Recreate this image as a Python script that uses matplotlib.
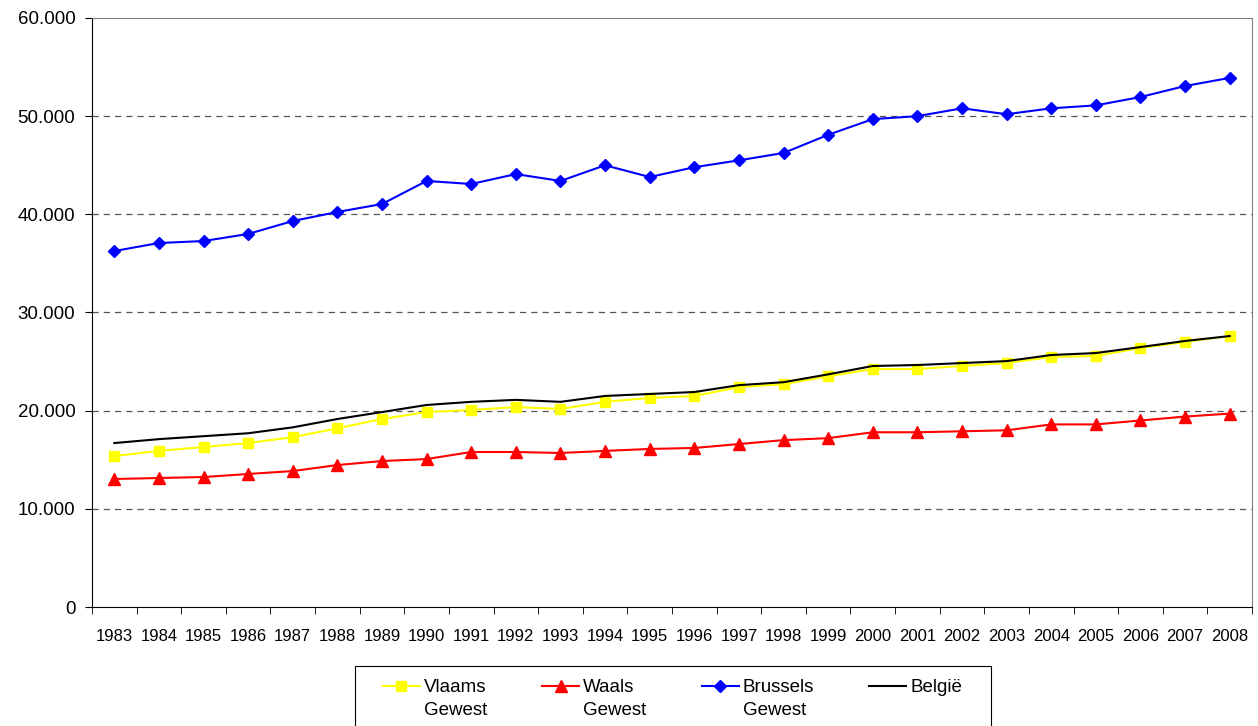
import matplotlib.pyplot as plt
from matplotlib.lines import Line2D
from matplotlib.patches import Rectangle
import numpy as np

plt.rcParams['font.family'] = ['Liberation Sans', 'DejaVu Sans']

years = [str(y) for y in range(1983, 2009)]
vlaams = [15380, 15900, 16300, 16700, 17300, 18200, 19150, 19860, 20070, 20370,
          20170, 20900, 21300, 21500, 22400, 22700, 23500, 24240, 24240, 24550,
          24850, 25470, 25570, 26380, 27000, 27600]
waals = [13040, 13140, 13240, 13550, 13850, 14460, 14870, 15070, 15790, 15790,
         15690, 15900, 16100, 16200, 16600, 17000, 17200, 17800, 17800, 17900,
         18000, 18600, 18600, 19000, 19400, 19700]
brussel = [36260, 37080, 37280, 38000, 39320, 40240, 41050, 43400, 43090, 44100,
           43400, 45000, 43800, 44800, 45500, 46250, 48100, 49700, 50000, 50800,
           50200, 50800, 51100, 51950, 53070, 53900]
belgie = [16700, 17100, 17400, 17700, 18300, 19150, 19860, 20580, 20900, 21100,
          20900, 21500, 21700, 21900, 22600, 22900, 23700, 24550, 24650, 24850,
          25050, 25670, 25870, 26480, 27100, 27600]
yticks = [0, 10000, 20000, 30000, 40000, 50000, 60000]
ylabels = ['0', '10.000', '20.000', '30.000', '40.000', '50.000', '60.000']

fig = plt.figure(figsize=(12.58, 7.26), dpi=100)
ax = fig.add_axes([92/1258, 1-607/726, 1160/1258, 589/726])
x = np.arange(len(years))

l1, = ax.plot(x, vlaams, color='#ffff00', marker='s', markersize=7, lw=1.5)
l2, = ax.plot(x, waals, color='#ff0000', marker='^', markersize=8, lw=1.5)
l3, = ax.plot(x, brussel, color='#0000ff', marker='D', markersize=6, lw=1.5)
l4, = ax.plot(x, belgie, color='black', lw=1.5)

ax.set_xlim(-0.5, len(years) - 0.5)
ax.set_ylim(0, 60000)
ax.set_yticks(yticks)
ax.set_yticklabels(ylabels, fontsize=13.5)
ax.set_xticks(x)
ax.set_xticklabels(years, fontsize=12)
ax.set_xticks(np.arange(len(years) + 1) - 0.5, minor=True)
ax.tick_params(axis='x', which='major', length=0, pad=16)
ax.tick_params(axis='x', which='minor', length=5, direction='out')
ax.tick_params(axis='y', length=5, direction='out', pad=7)

for yv in yticks[1:-1]:
    ax.axhline(yv, color='#555555', lw=0.9, ls=(0, (5, 4)), zorder=0)

ax.spines['top'].set_color('#808080')
ax.spines['right'].set_color('#808080')
ax.spines['left'].set_color('black')
ax.spines['bottom'].set_color('black')

# legend: second text line as its own row so the handle sits on the first line
blank = Line2D([], [], linestyle='none')
handles = [l1, blank, l2, blank, l3, blank, l4, blank]
labels = ['Vlaams', 'Gewest', 'Waals', 'Gewest', 'Brussels', 'Gewest', 'België', '']
fig.legend(handles, labels, loc='upper left', bbox_to_anchor=(383/1258, 1-679/726),
           ncol=4, fontsize=13.5, frameon=False, handlelength=1.97,
           handletextpad=0.21, columnspacing=2.95, labelspacing=0.32,
           borderpad=0, borderaxespad=0)
fig.patches.append(Rectangle((355/1258, -0.05), (991-355)/1258, 1-666/726+0.05,
                             transform=fig.transFigure, fill=False,
                             edgecolor='black', lw=0.8))

fig.savefig('out.png', dpi=100)
